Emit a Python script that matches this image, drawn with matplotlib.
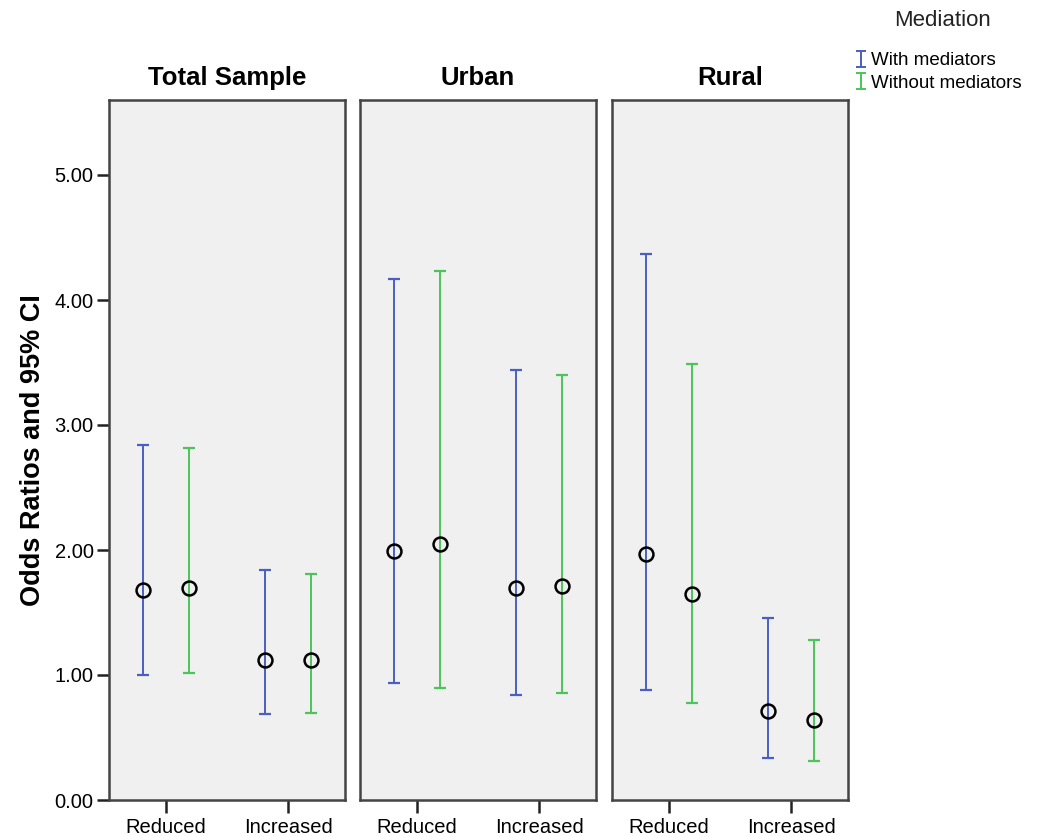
import numpy as np
import matplotlib.pyplot as plt
from matplotlib.path import Path
from matplotlib.lines import Line2D

plt.rcParams["font.family"] = ["Liberation Sans", "DejaVu Sans"]

# Odds ratios with 95% CI
panels = ["Total Sample", "Urban", "Rural"]
categories = ["Reduced", "Increased"]
series = ["With mediators", "Without mediators"]

# [panel][category]
or_with = [[1.68, 1.12], [1.99, 1.70], [1.97, 0.71]]
lo_with = [[1.00, 0.69], [0.94, 0.84], [0.88, 0.34]]
hi_with = [[2.84, 1.84], [4.17, 3.44], [4.37, 1.46]]

or_without = [[1.70, 1.12], [2.05, 1.71], [1.65, 0.64]]
lo_without = [[1.02, 0.70], [0.90, 0.86], [0.78, 0.31]]
hi_without = [[2.82, 1.81], [4.23, 3.40], [3.49, 1.28]]

blue = "#4a5fbf"
green = "#4cc45a"

W, H = 1037, 836
fig = plt.figure(figsize=(W / 100, H / 100), dpi=100)

lefts = [109, 360, 612]
pw = 236
x = np.arange(len(categories))
off = 0.185

for i, name in enumerate(panels):
    ax = fig.add_axes([lefts[i] / W, 36 / H, pw / W, 700 / H])
    ax.set_facecolor("#f0f0f0")
    for s in ax.spines.values():
        s.set_color("#444444")
        s.set_linewidth(1.8)

    data = [(or_with, lo_with, hi_with, blue, -off),
            (or_without, lo_without, hi_without, green, off)]
    for k, (est, lo, hi, col, dx) in enumerate(data):
        e = np.array(est[i])
        yerr = [e - np.array(lo[i]), np.array(hi[i]) - e]
        ax.errorbar(x + dx, e, yerr=yerr, fmt="none", ecolor=col,
                    elinewidth=1.4, capsize=4.5, capthick=1.6)
        ax.plot(x + dx, e, "o", mfc="none", mec="black", ms=10, mew=1.8,
                zorder=5)

    ax.set_xlim(-0.467, 1.467)
    ax.set_ylim(0, 5.6)
    ax.set_xticks(x)
    ax.set_xticklabels(categories, fontsize=14.5)
    ax.tick_params(axis="x", length=9, width=1.8, color="#222222", pad=4)
    ax.set_title(name, fontsize=18.5, fontweight="bold", pad=11)
    if i == 0:
        ax.set_yticks(np.arange(0, 6, 1))
        ax.set_yticklabels(["%.2f" % v for v in np.arange(0, 6, 1)],
                           fontsize=14.5)
        ax.tick_params(axis="y", length=9, width=1.8, color="#222222", pad=2)
        ax.set_ylabel("Odds Ratios and 95% CI", fontsize=19.5,
                      fontweight="bold", labelpad=6)
    else:
        ax.set_yticks([])

# "I" shaped legend keys like the error bars
ibar = Path([(-0.3, -0.5), (0.3, -0.5), (0, -0.5), (0, 0.5), (-0.3, 0.5), (0.3, 0.5)],
            [Path.MOVETO, Path.LINETO, Path.MOVETO, Path.LINETO, Path.MOVETO, Path.LINETO])
keys = [Line2D([], [], ls="none", marker=ibar, ms=12, mec=c, mfc="none", mew=1.4)
        for c in (blue, green)]

fig.text(943 / W, 1 - 20 / H, "Mediation", fontsize=16, color="#222222",
         ha="center", va="center")
leg = fig.legend(handles=keys, labels=series, loc="upper left",
                 bbox_to_anchor=(843 / W, 1 - 39 / H), frameon=False,
                 fontsize=13.5, handlelength=0.5, handletextpad=0.3,
                 labelspacing=0.3, borderpad=0.2)

fig.savefig("out.png", dpi=100)
